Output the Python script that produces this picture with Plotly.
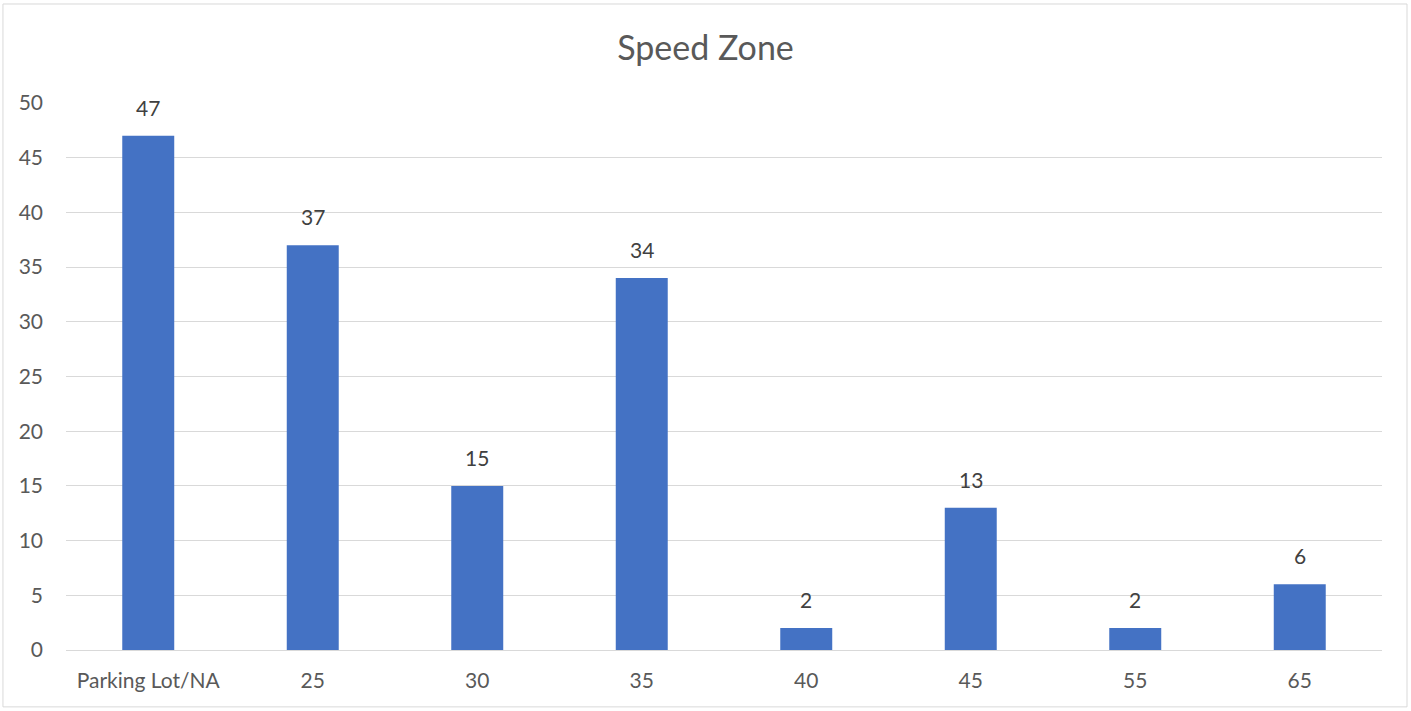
import plotly.graph_objects as go

categories = ["Parking Lot/NA", "25", "30", "35", "40", "45", "55", "65"]
counts = [47, 37, 15, 34, 2, 13, 2, 6]
y_ticks = [0, 5, 10, 15, 20, 25, 30, 35, 40, 45, 50]

text_color = "#595959"
grid_color = "#d9d9d9"

fig = go.Figure()
fig.add_trace(go.Bar(
    x=categories, y=counts,
    marker=dict(color="#4472c4", line=dict(width=0)),
))

# data labels sit well above each bar, like the Excel original
# (category labels like "25" would be read as numbers, so place by index)
for i, val in enumerate(counts):
    fig.add_annotation(x=i, y=val, text=str(val), showarrow=False,
                       yanchor="bottom", yshift=14,
                       font=dict(size=21, color="#404040"))

fig.update_layout(
    width=1411, height=711,
    margin=dict(l=66, r=29, t=103, b=61),
    paper_bgcolor="white", plot_bgcolor="white",
    font=dict(family="Lato, Open Sans, sans-serif", color=text_color),
    title=dict(text="Speed Zone", x=0.5, xanchor="center", y=0.932, yanchor="middle",
               font=dict(size=34, color=text_color)),
    bargap=0.684,
    showlegend=False,
)
fig.update_xaxes(type="category", categoryorder="array", categoryarray=categories,
                 range=[-0.5, len(categories) - 0.5],
                 showgrid=False, showline=True, linecolor=grid_color, linewidth=1,
                 tickfont=dict(size=21, color=text_color), ticks="", ticklabelstandoff=12,
                 tickangle=0, automargin=False)
fig.update_yaxes(range=[0, 50], tickvals=y_ticks, showgrid=True, gridcolor=grid_color, gridwidth=1,
                 zeroline=False, showline=False, ticks="",
                 tickfont=dict(size=21, color=text_color), ticklabelstandoff=22, automargin=False)

# chart frame
fig.add_shape(type="rect", xref="paper", yref="paper",
              x0=-0.0479, x1=1.019, y0=-0.104, y1=1.181,
              line=dict(color=grid_color, width=1), layer="below")

fig.write_html("out.html", config={"displayModeBar": False},
               post_script="document.body.style.margin='0';")
